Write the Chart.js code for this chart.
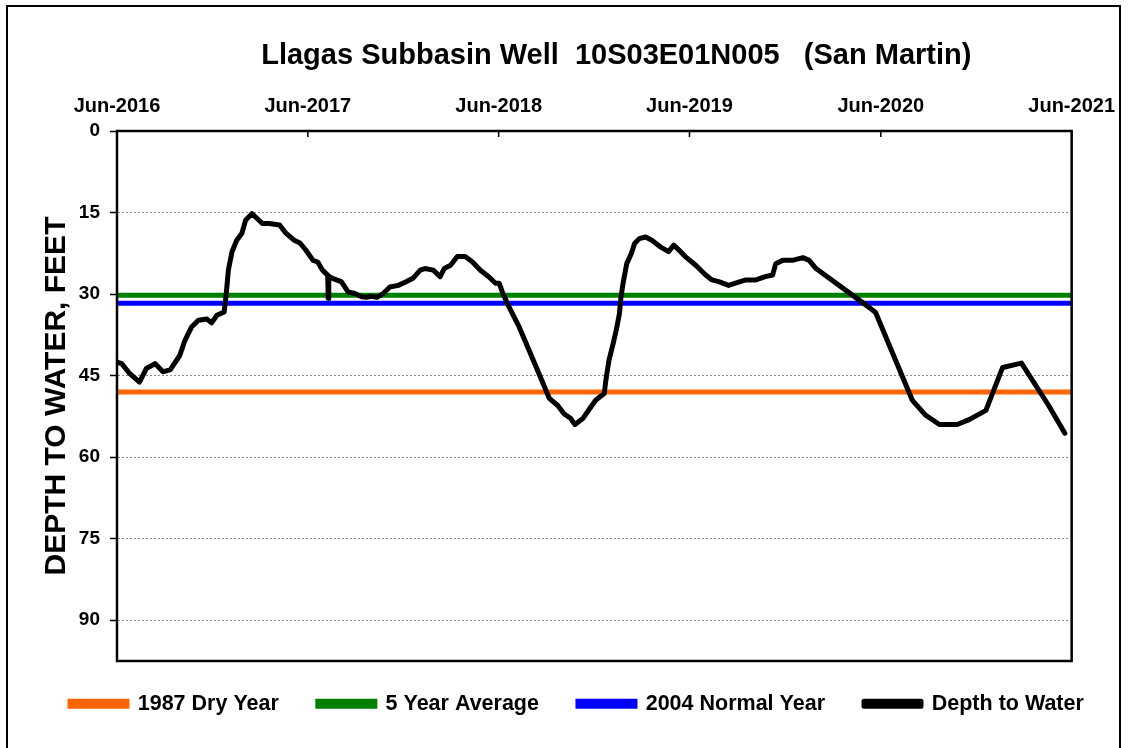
<!DOCTYPE html>
<html>
<head>
<meta charset="utf-8">
<script src="https://cdn.jsdelivr.net/npm/chart.js@4"></script>
<style>
  html, body { margin: 0; padding: 0; background: #fff; }
  #wrap { position: relative; width: 1128px; height: 748px; overflow: hidden; }
  #frame { position: absolute; left: 6px; top: 5px; width: 1111px; height: 780px; border: 2px solid #000; }
  canvas { position: absolute; left: 0; top: 0; }
</style>
</head>
<body>
<div id="wrap">
  <div id="frame"></div>
  <canvas id="chart" width="1128" height="748"></canvas>
</div>
<script>
const TITLE = "Llagas Subbasin Well  10S03E01N005   (San Martin)";
const Y_TITLE = "DEPTH TO WATER, FEET";
const FONT = "'Liberation Sans', Arial, sans-serif";

const xTickDates = ["2016-06-01", "2017-06-01", "2018-06-01", "2019-06-01", "2020-06-01", "2021-06-01"];
const xTickLabels = ["Jun-2016", "Jun-2017", "Jun-2018", "Jun-2019", "Jun-2020", "Jun-2021"];

// reference levels (feet below ground)
const refDates = ["2016-06-01", "2021-06-01"];
const dryYear1987 = [48.0, 48.0];
const fiveYearAvg = [30.2, 30.2];
const normalYear2004 = [31.7, 31.7];

// depth to water readings
const waterDates = [
  "2016-06-01", "2016-06-10", "2016-06-25", "2016-07-14", "2016-07-27", "2016-08-13",
  "2016-08-28", "2016-09-11", "2016-09-29", "2016-10-09", "2016-10-22", "2016-11-04",
  "2016-11-20", "2016-11-29", "2016-12-09", "2016-12-23", "2016-12-27", "2016-12-31",
  "2017-01-07", "2017-01-16", "2017-01-26", "2017-02-02", "2017-02-14", "2017-02-24",
  "2017-03-06", "2017-03-19", "2017-04-08", "2017-04-20", "2017-05-06", "2017-05-17",
  "2017-05-28", "2017-06-11", "2017-06-20", "2017-06-29", "2017-07-09", "2017-07-10",
  "2017-07-11", "2017-07-18", "2017-08-04", "2017-08-17", "2017-08-30", "2017-09-12",
  "2017-09-21", "2017-09-30", "2017-10-11", "2017-10-23", "2017-11-05", "2017-11-21",
  "2017-12-07", "2017-12-19", "2018-01-02", "2018-01-11", "2018-01-27", "2018-02-09",
  "2018-02-17", "2018-03-01", "2018-03-14", "2018-03-29", "2018-04-12", "2018-04-27",
  "2018-05-13", "2018-05-26", "2018-06-02", "2018-06-08", "2018-06-21", "2018-07-10",
  "2018-07-29", "2018-08-17", "2018-09-06", "2018-09-22", "2018-10-04", "2018-10-17",
  "2018-10-25", "2018-11-09", "2018-11-22", "2018-12-04", "2018-12-20", "2018-12-23",
  "2018-12-29", "2019-01-06", "2019-01-12", "2019-01-18", "2019-01-21", "2019-01-25",
  "2019-02-01", "2019-02-10", "2019-02-16", "2019-02-25", "2019-03-09", "2019-03-21",
  "2019-04-06", "2019-04-22", "2019-05-02", "2019-05-15", "2019-05-24", "2019-06-13",
  "2019-07-02", "2019-07-14", "2019-07-27", "2019-08-15", "2019-08-28", "2019-09-17",
  "2019-10-06", "2019-10-24", "2019-11-07", "2019-11-13", "2019-11-26", "2019-12-15",
  "2020-01-04", "2020-01-16", "2020-01-29", "2020-05-09", "2020-05-22", "2020-07-31",
  "2020-08-26", "2020-09-21", "2020-10-25", "2020-11-17", "2020-12-19", "2021-01-20",
  "2021-02-25", "2021-04-18", "2021-05-19"
];
const waterDepths = [
  42.5, 42.8, 44.6, 46.2, 43.7, 42.8,
  44.3, 43.9, 41.3, 38.5, 36.0, 34.8,
  34.6, 35.3, 33.9, 33.3, 29.9, 25.6,
  22.2, 20.1, 18.8, 16.4, 15.2, 16.1,
  17.0, 17.0, 17.3, 18.8, 20.1, 20.6,
  21.9, 23.8, 24.1, 25.6, 26.5, 30.8,
  26.7, 27.1, 27.7, 29.6, 29.9, 30.5,
  30.6, 30.4, 30.6, 29.9, 28.7, 28.4,
  27.7, 27.1, 25.6, 25.3, 25.6, 26.8,
  25.3, 24.7, 23.1, 23.1, 24.1, 25.6,
  26.8, 28.0, 28.0, 29.6, 32.4, 36.0,
  40.3, 44.6, 49.2, 50.5, 52.0, 52.9,
  54.0, 52.9, 51.1, 49.5, 48.3, 45.9,
  42.2, 39.1, 36.6, 33.6, 30.5, 28.0,
  24.4, 22.5, 20.7, 19.8, 19.5, 20.1,
  21.3, 22.2, 21.0, 22.2, 23.1, 24.7,
  26.5, 27.4, 27.7, 28.4, 28.0, 27.4,
  27.4, 26.8, 26.5, 24.4, 23.8, 23.8,
  23.3, 23.8, 25.3, 32.4, 33.4, 49.5,
  52.3, 54.0, 54.0, 53.1, 51.4, 43.5,
  42.7, 50.5, 55.6
];

function dayNum(s) {
  const [y, m, d] = s.split("-").map(Number);
  return (Date.UTC(y, m - 1, d) - Date.UTC(2016, 5, 1)) / 86400000;
}

function toPoints(dates, values) {
  return dates.map((d, i) => ({ x: dayNum(d), y: values[i] }));
}

function levelLine(label, color, values) {
  return {
    label: label,
    data: toPoints(refDates, values),
    borderColor: color,
    backgroundColor: color,
    borderWidth: 5,
    pointRadius: 0,
    order: 1,
  };
}

// plot frame, inside ticks on the top axis, and the title
const chartDecor = {
  id: "chartDecor",
  afterLayout(chart) {
    // pull the legend row up a little, its padding is also the item gap
    chart.legend.top -= 7;
    chart.legend.bottom -= 7;
  },
  afterDraw(chart) {
    const { ctx, chartArea: a } = chart;
    ctx.save();
    ctx.strokeStyle = "#000";
    ctx.lineWidth = 2.5;
    ctx.strokeRect(a.left, a.top, a.right - a.left, a.bottom - a.top);
    ctx.lineWidth = 1.5;
    const xs = chart.scales.x;
    xTickDates.forEach((d) => {
      const px = xs.getPixelForValue(dayNum(d));
      ctx.beginPath();
      ctx.moveTo(px, a.top);
      ctx.lineTo(px, a.top + 6);
      ctx.stroke();
    });
    ctx.font = "bold 29px " + FONT;
    ctx.textAlign = "center";
    ctx.textBaseline = "middle";
    ctx.fillStyle = "#000";
    ctx.fillText(TITLE, (a.left + a.right) / 2 + 22, 56);
    ctx.restore();
  },
};

Chart.defaults.font.family = FONT;
Chart.defaults.font.weight = "bold";
Chart.defaults.color = "#000";

new Chart(document.getElementById("chart"), {
  type: "line",
  data: {
    datasets: [
      levelLine("1987 Dry Year", "#ff6600", dryYear1987),
      levelLine("5 Year Average", "#008000", fiveYearAvg),
      levelLine("2004 Normal Year", "#0000ff", normalYear2004),
      {
        label: "Depth to Water",
        data: toPoints(waterDates, waterDepths),
        borderColor: "#000",
        backgroundColor: "#000",
        borderWidth: 5,
        borderJoinStyle: "round",
        borderCapStyle: "round",
        pointRadius: 0,
        tension: 0,
        order: 0,
      },
    ],
  },
  options: {
    responsive: false,
    animation: false,
    layout: { padding: { left: 31, right: 0, top: 91, bottom: 16.5 } },
    plugins: {
      title: { display: false },
      tooltip: { enabled: false },
      legend: {
        position: "bottom",
        align: "start",
        labels: {
          boxWidth: 57,
          boxHeight: 5,
          padding: 39,
          color: "#000",
          font: { size: 21.5, weight: "bold" },
          sort: (a, b) => a.datasetIndex - b.datasetIndex,
        },
      },
    },
    scales: {
      x: {
        type: "linear",
        position: "top",
        min: 0,
        max: dayNum("2021-06-01"),
        afterFit: (scale) => { scale.height = 40; },
        afterBuildTicks: (scale) => {
          scale.ticks = xTickDates.map((d) => ({ value: dayNum(d) }));
        },
        grid: { drawOnChartArea: false, drawTicks: false },
        border: { color: "#000", width: 2 },
        ticks: {
          autoSkip: false,
          maxRotation: 0,
          padding: 13,
          font: { size: 20, weight: "bold" },
          color: "#000",
          callback: (v, i) => xTickLabels[i],
        },
      },
      y: {
        type: "linear",
        reverse: true,
        min: 0,
        max: 97.5,
        afterFit: (scale) => { scale.width = 86; },
        title: {
          display: true,
          text: Y_TITLE,
          padding: { top: 7.5, bottom: 0 },
          font: { size: 30, weight: "bold" },
          color: "#000",
        },
        grid: {
          color: (ctx) => (ctx.tick && ctx.tick.value === 0 ? "rgba(0,0,0,0)" : "#8c8c8c"),
          lineWidth: 1,
          tickColor: "#000",
          tickLength: 7,
          tickWidth: 1.5,
        },
        border: { color: "#000", width: 2, dash: [2, 2] },
        ticks: {
          stepSize: 15,
          includeBounds: false,
          padding: 10,
          font: { size: 19, weight: "bold" },
          color: "#000",
        },
      },
      // empty right-hand margin so the plot ends where the legend row may still run on
      yRight: {
        type: "linear",
        position: "right",
        afterFit: (scale) => { scale.width = 53; },
        grid: { display: false },
        border: { display: false },
        ticks: { display: false },
      },
    },
  },
  plugins: [chartDecor],
});
</script>
</body>
</html>
